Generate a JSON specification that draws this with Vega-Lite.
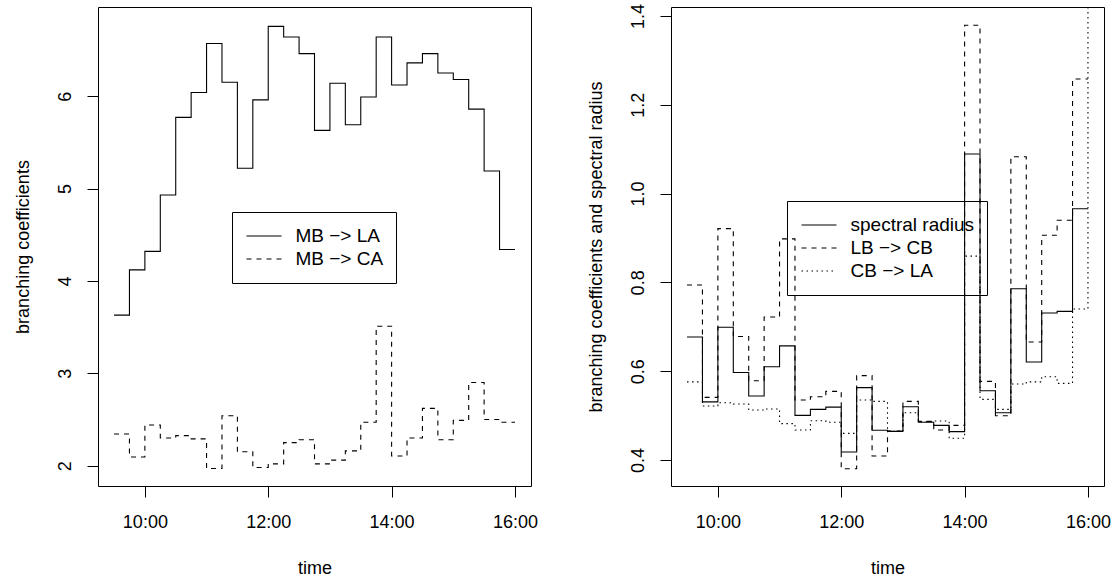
{
  "$schema": "https://vega.github.io/schema/vega-lite/v6.json",
  "background": "white",
  "padding": {"left": 13, "top": 2, "right": 5, "bottom": 2},
  "config": {
    "font": "Liberation Sans",
    "view": {"stroke": "black", "strokeWidth": 1},
    "axis": {
      "domain": false, "grid": false,
      "tickColor": "black", "tickSize": 11, "tickWidth": 1,
      "labelColor": "black", "titleColor": "black",
      "labelFont": "Liberation Sans", "titleFont": "Liberation Sans",
      "labelFontSize": 18, "titleFontSize": 18, "titleFontWeight": "normal"
    },
    "legend": {
      "symbolType": "stroke", "symbolSize": 1225, "symbolStrokeWidth": 1.1,
      "symbolStrokeColor": "black", "labelFont": "Liberation Sans", "labelFontSize": 19,
      "labelColor": "black", "labelOffset": 13, "symbolOffset": 1, "strokeColor": "black",
      "padding": 12.5, "rowPadding": 0, "clipHeight": 23
    }
  },
  "datasets": {
    "left": [
      {"time": "2000-01-01T09:30:00", "series": "MB −> LA", "value": 3.63},
      {"time": "2000-01-01T09:45:00", "series": "MB −> LA", "value": 4.12},
      {"time": "2000-01-01T10:00:00", "series": "MB −> LA", "value": 4.32},
      {"time": "2000-01-01T10:15:00", "series": "MB −> LA", "value": 4.93},
      {"time": "2000-01-01T10:30:00", "series": "MB −> LA", "value": 5.77},
      {"time": "2000-01-01T10:45:00", "series": "MB −> LA", "value": 6.04},
      {"time": "2000-01-01T11:00:00", "series": "MB −> LA", "value": 6.57},
      {"time": "2000-01-01T11:15:00", "series": "MB −> LA", "value": 6.15},
      {"time": "2000-01-01T11:30:00", "series": "MB −> LA", "value": 5.22},
      {"time": "2000-01-01T11:45:00", "series": "MB −> LA", "value": 5.96},
      {"time": "2000-01-01T12:00:00", "series": "MB −> LA", "value": 6.755},
      {"time": "2000-01-01T12:15:00", "series": "MB −> LA", "value": 6.64},
      {"time": "2000-01-01T12:30:00", "series": "MB −> LA", "value": 6.46},
      {"time": "2000-01-01T12:45:00", "series": "MB −> LA", "value": 5.63},
      {"time": "2000-01-01T13:00:00", "series": "MB −> LA", "value": 6.14},
      {"time": "2000-01-01T13:15:00", "series": "MB −> LA", "value": 5.69},
      {"time": "2000-01-01T13:30:00", "series": "MB −> LA", "value": 5.99},
      {"time": "2000-01-01T13:45:00", "series": "MB −> LA", "value": 6.64},
      {"time": "2000-01-01T14:00:00", "series": "MB −> LA", "value": 6.12},
      {"time": "2000-01-01T14:15:00", "series": "MB −> LA", "value": 6.36},
      {"time": "2000-01-01T14:30:00", "series": "MB −> LA", "value": 6.46},
      {"time": "2000-01-01T14:45:00", "series": "MB −> LA", "value": 6.25},
      {"time": "2000-01-01T15:00:00", "series": "MB −> LA", "value": 6.18},
      {"time": "2000-01-01T15:15:00", "series": "MB −> LA", "value": 5.86},
      {"time": "2000-01-01T15:30:00", "series": "MB −> LA", "value": 5.19},
      {"time": "2000-01-01T15:45:00", "series": "MB −> LA", "value": 4.34},
      {"time": "2000-01-01T16:00:00", "series": "MB −> LA", "value": 4.34},
      {"time": "2000-01-01T09:30:00", "series": "MB −> CA", "value": 2.343},
      {"time": "2000-01-01T09:45:00", "series": "MB −> CA", "value": 2.094},
      {"time": "2000-01-01T10:00:00", "series": "MB −> CA", "value": 2.44},
      {"time": "2000-01-01T10:15:00", "series": "MB −> CA", "value": 2.30},
      {"time": "2000-01-01T10:30:00", "series": "MB −> CA", "value": 2.325},
      {"time": "2000-01-01T10:45:00", "series": "MB −> CA", "value": 2.29},
      {"time": "2000-01-01T11:00:00", "series": "MB −> CA", "value": 1.97},
      {"time": "2000-01-01T11:15:00", "series": "MB −> CA", "value": 2.54},
      {"time": "2000-01-01T11:30:00", "series": "MB −> CA", "value": 2.15},
      {"time": "2000-01-01T11:45:00", "series": "MB −> CA", "value": 1.98},
      {"time": "2000-01-01T12:00:00", "series": "MB −> CA", "value": 2.02},
      {"time": "2000-01-01T12:15:00", "series": "MB −> CA", "value": 2.25},
      {"time": "2000-01-01T12:30:00", "series": "MB −> CA", "value": 2.28},
      {"time": "2000-01-01T12:45:00", "series": "MB −> CA", "value": 2.02},
      {"time": "2000-01-01T13:00:00", "series": "MB −> CA", "value": 2.06},
      {"time": "2000-01-01T13:15:00", "series": "MB −> CA", "value": 2.16},
      {"time": "2000-01-01T13:30:00", "series": "MB −> CA", "value": 2.47},
      {"time": "2000-01-01T13:45:00", "series": "MB −> CA", "value": 3.51},
      {"time": "2000-01-01T14:00:00", "series": "MB −> CA", "value": 2.105},
      {"time": "2000-01-01T14:15:00", "series": "MB −> CA", "value": 2.30},
      {"time": "2000-01-01T14:30:00", "series": "MB −> CA", "value": 2.62},
      {"time": "2000-01-01T14:45:00", "series": "MB −> CA", "value": 2.28},
      {"time": "2000-01-01T15:00:00", "series": "MB −> CA", "value": 2.49},
      {"time": "2000-01-01T15:15:00", "series": "MB −> CA", "value": 2.90},
      {"time": "2000-01-01T15:30:00", "series": "MB −> CA", "value": 2.50},
      {"time": "2000-01-01T15:45:00", "series": "MB −> CA", "value": 2.47},
      {"time": "2000-01-01T16:00:00", "series": "MB −> CA", "value": 2.47}
    ],
    "right": [
      {"time": "2000-01-01T09:30:00", "series": "spectral radius", "value": 0.677},
      {"time": "2000-01-01T09:45:00", "series": "spectral radius", "value": 0.531},
      {"time": "2000-01-01T10:00:00", "series": "spectral radius", "value": 0.699},
      {"time": "2000-01-01T10:15:00", "series": "spectral radius", "value": 0.597},
      {"time": "2000-01-01T10:30:00", "series": "spectral radius", "value": 0.544},
      {"time": "2000-01-01T10:45:00", "series": "spectral radius", "value": 0.610},
      {"time": "2000-01-01T11:00:00", "series": "spectral radius", "value": 0.657},
      {"time": "2000-01-01T11:15:00", "series": "spectral radius", "value": 0.5005},
      {"time": "2000-01-01T11:30:00", "series": "spectral radius", "value": 0.514},
      {"time": "2000-01-01T11:45:00", "series": "spectral radius", "value": 0.519},
      {"time": "2000-01-01T12:00:00", "series": "spectral radius", "value": 0.418},
      {"time": "2000-01-01T12:15:00", "series": "spectral radius", "value": 0.563},
      {"time": "2000-01-01T12:30:00", "series": "spectral radius", "value": 0.467},
      {"time": "2000-01-01T12:45:00", "series": "spectral radius", "value": 0.4645},
      {"time": "2000-01-01T13:00:00", "series": "spectral radius", "value": 0.520},
      {"time": "2000-01-01T13:15:00", "series": "spectral radius", "value": 0.485},
      {"time": "2000-01-01T13:30:00", "series": "spectral radius", "value": 0.478},
      {"time": "2000-01-01T13:45:00", "series": "spectral radius", "value": 0.464},
      {"time": "2000-01-01T14:00:00", "series": "spectral radius", "value": 1.089},
      {"time": "2000-01-01T14:15:00", "series": "spectral radius", "value": 0.556},
      {"time": "2000-01-01T14:30:00", "series": "spectral radius", "value": 0.5065},
      {"time": "2000-01-01T14:45:00", "series": "spectral radius", "value": 0.7856},
      {"time": "2000-01-01T15:00:00", "series": "spectral radius", "value": 0.6206},
      {"time": "2000-01-01T15:15:00", "series": "spectral radius", "value": 0.731},
      {"time": "2000-01-01T15:30:00", "series": "spectral radius", "value": 0.7346},
      {"time": "2000-01-01T15:45:00", "series": "spectral radius", "value": 0.9656},
      {"time": "2000-01-01T16:00:00", "series": "spectral radius", "value": 0.9656},
      {"time": "2000-01-01T09:30:00", "series": "LB −> CB", "value": 0.794},
      {"time": "2000-01-01T09:45:00", "series": "LB −> CB", "value": 0.541},
      {"time": "2000-01-01T10:00:00", "series": "LB −> CB", "value": 0.921},
      {"time": "2000-01-01T10:15:00", "series": "LB −> CB", "value": 0.678},
      {"time": "2000-01-01T10:30:00", "series": "LB −> CB", "value": 0.5786},
      {"time": "2000-01-01T10:45:00", "series": "LB −> CB", "value": 0.722},
      {"time": "2000-01-01T11:00:00", "series": "LB −> CB", "value": 0.898},
      {"time": "2000-01-01T11:15:00", "series": "LB −> CB", "value": 0.535},
      {"time": "2000-01-01T11:30:00", "series": "LB −> CB", "value": 0.5425},
      {"time": "2000-01-01T11:45:00", "series": "LB −> CB", "value": 0.5545},
      {"time": "2000-01-01T12:00:00", "series": "LB −> CB", "value": 0.3805},
      {"time": "2000-01-01T12:15:00", "series": "LB −> CB", "value": 0.590},
      {"time": "2000-01-01T12:30:00", "series": "LB −> CB", "value": 0.409},
      {"time": "2000-01-01T12:45:00", "series": "LB −> CB", "value": 0.465},
      {"time": "2000-01-01T13:00:00", "series": "LB −> CB", "value": 0.532},
      {"time": "2000-01-01T13:15:00", "series": "LB −> CB", "value": 0.487},
      {"time": "2000-01-01T13:30:00", "series": "LB −> CB", "value": 0.4675},
      {"time": "2000-01-01T13:45:00", "series": "LB −> CB", "value": 0.478},
      {"time": "2000-01-01T14:00:00", "series": "LB −> CB", "value": 1.379},
      {"time": "2000-01-01T14:15:00", "series": "LB −> CB", "value": 0.577},
      {"time": "2000-01-01T14:30:00", "series": "LB −> CB", "value": 0.4998},
      {"time": "2000-01-01T14:45:00", "series": "LB −> CB", "value": 1.0827},
      {"time": "2000-01-01T15:00:00", "series": "LB −> CB", "value": 0.6656},
      {"time": "2000-01-01T15:15:00", "series": "LB −> CB", "value": 0.906},
      {"time": "2000-01-01T15:30:00", "series": "LB −> CB", "value": 0.940},
      {"time": "2000-01-01T15:45:00", "series": "LB −> CB", "value": 1.258},
      {"time": "2000-01-01T16:00:00", "series": "LB −> CB", "value": 1.258},
      {"time": "2000-01-01T09:30:00", "series": "CB −> LA", "value": 0.576},
      {"time": "2000-01-01T09:45:00", "series": "CB −> LA", "value": 0.5215},
      {"time": "2000-01-01T10:00:00", "series": "CB −> LA", "value": 0.529},
      {"time": "2000-01-01T10:15:00", "series": "CB −> LA", "value": 0.526},
      {"time": "2000-01-01T10:30:00", "series": "CB −> LA", "value": 0.5125},
      {"time": "2000-01-01T10:45:00", "series": "CB −> LA", "value": 0.515},
      {"time": "2000-01-01T11:00:00", "series": "CB −> LA", "value": 0.482},
      {"time": "2000-01-01T11:15:00", "series": "CB −> LA", "value": 0.4675},
      {"time": "2000-01-01T11:30:00", "series": "CB −> LA", "value": 0.4885},
      {"time": "2000-01-01T11:45:00", "series": "CB −> LA", "value": 0.485},
      {"time": "2000-01-01T12:00:00", "series": "CB −> LA", "value": 0.460},
      {"time": "2000-01-01T12:15:00", "series": "CB −> LA", "value": 0.535},
      {"time": "2000-01-01T12:30:00", "series": "CB −> LA", "value": 0.532},
      {"time": "2000-01-01T12:45:00", "series": "CB −> LA", "value": 0.4645},
      {"time": "2000-01-01T13:00:00", "series": "CB −> LA", "value": 0.5065},
      {"time": "2000-01-01T13:15:00", "series": "CB −> LA", "value": 0.486},
      {"time": "2000-01-01T13:30:00", "series": "CB −> LA", "value": 0.4878},
      {"time": "2000-01-01T13:45:00", "series": "CB −> LA", "value": 0.449},
      {"time": "2000-01-01T14:00:00", "series": "CB −> LA", "value": 0.859},
      {"time": "2000-01-01T14:15:00", "series": "CB −> LA", "value": 0.5365},
      {"time": "2000-01-01T14:30:00", "series": "CB −> LA", "value": 0.514},
      {"time": "2000-01-01T14:45:00", "series": "CB −> LA", "value": 0.571},
      {"time": "2000-01-01T15:00:00", "series": "CB −> LA", "value": 0.576},
      {"time": "2000-01-01T15:15:00", "series": "CB −> LA", "value": 0.5875},
      {"time": "2000-01-01T15:30:00", "series": "CB −> LA", "value": 0.5725},
      {"time": "2000-01-01T15:45:00", "series": "CB −> LA", "value": 0.740},
      {"time": "2000-01-01T16:00:00", "series": "CB −> LA", "value": 1.5}
    ]
  },
  "spacing": 140,
  "bounds": "flush",
  "hconcat": [
    {
      "width": 433,
      "height": 479,
      "data": {"name": "left"},
      "mark": {"type": "line", "interpolate": "step-after", "clip": true, "color": "black", "strokeWidth": 1.1},
      "encoding": {
        "x": {
          "field": "time", "type": "temporal",
          "scale": {"domain": [
            {"year": 2000, "month": 1, "date": 1, "hours": 9, "minutes": 14, "seconds": 24},
            {"year": 2000, "month": 1, "date": 1, "hours": 16, "minutes": 15, "seconds": 36}
          ]},
          "axis": {
            "values": [
              {"year": 2000, "month": 1, "date": 1, "hours": 10},
              {"year": 2000, "month": 1, "date": 1, "hours": 12},
              {"year": 2000, "month": 1, "date": 1, "hours": 14},
              {"year": 2000, "month": 1, "date": 1, "hours": 16}
            ],
            "format": "%H:%M", "title": "time", "labelPadding": 16, "titlePadding": 28,
            "labelFlush": false, "labelOverlap": false
          }
        },
        "y": {
          "field": "value", "type": "quantitative",
          "scale": {"domain": [1.78, 6.965], "nice": false, "zero": false},
          "axis": {
            "values": [2, 3, 4, 5, 6], "title": "branching coefficients",
            "labelAngle": 270, "labelAlign": "center", "labelBaseline": "bottom",
            "labelPadding": 13, "titlePadding": 24, "labelFlush": false, "labelOverlap": false
          }
        },
        "strokeDash": {
          "field": "series", "type": "nominal",
          "scale": {"domain": ["MB −> LA", "MB −> CA"], "range": [[1, 0], [5, 5]]},
          "legend": {"title": null, "orient": "none", "legendX": 134, "legendY": 205}
        }
      }
    },
    {
      "width": 433,
      "height": 479,
      "data": {"name": "right"},
      "mark": {"type": "line", "interpolate": "step-after", "clip": true, "color": "black", "strokeWidth": 1.1},
      "encoding": {
        "x": {
          "field": "time", "type": "temporal",
          "scale": {"domain": [
            {"year": 2000, "month": 1, "date": 1, "hours": 9, "minutes": 14, "seconds": 24},
            {"year": 2000, "month": 1, "date": 1, "hours": 16, "minutes": 15, "seconds": 36}
          ]},
          "axis": {
            "values": [
              {"year": 2000, "month": 1, "date": 1, "hours": 10},
              {"year": 2000, "month": 1, "date": 1, "hours": 12},
              {"year": 2000, "month": 1, "date": 1, "hours": 14},
              {"year": 2000, "month": 1, "date": 1, "hours": 16}
            ],
            "format": "%H:%M", "title": "time", "labelPadding": 16, "titlePadding": 28,
            "labelFlush": false, "labelOverlap": false
          }
        },
        "y": {
          "field": "value", "type": "quantitative",
          "scale": {"domain": [0.3415, 1.42], "nice": false, "zero": false},
          "axis": {
            "values": [0.4, 0.6, 0.8, 1.0, 1.2, 1.4], "format": ".1f",
            "title": "branching coefficients and spectral radius",
            "labelAngle": 270, "labelAlign": "center", "labelBaseline": "bottom",
            "labelPadding": 13, "titlePadding": 24, "labelFlush": false, "labelOverlap": false
          }
        },
        "strokeDash": {
          "field": "series", "type": "nominal",
          "scale": {"domain": ["spectral radius", "LB −> CB", "CB −> LA"], "range": [[1, 0], [5, 5], [1.5, 3.5]]},
          "legend": {"title": null, "orient": "none", "legendX": 116, "legendY": 194}
        }
      }
    }
  ],
  "resolve": {
    "scale": {"y": "independent", "strokeDash": "independent"},
    "legend": {"strokeDash": "independent"}
  }
}
